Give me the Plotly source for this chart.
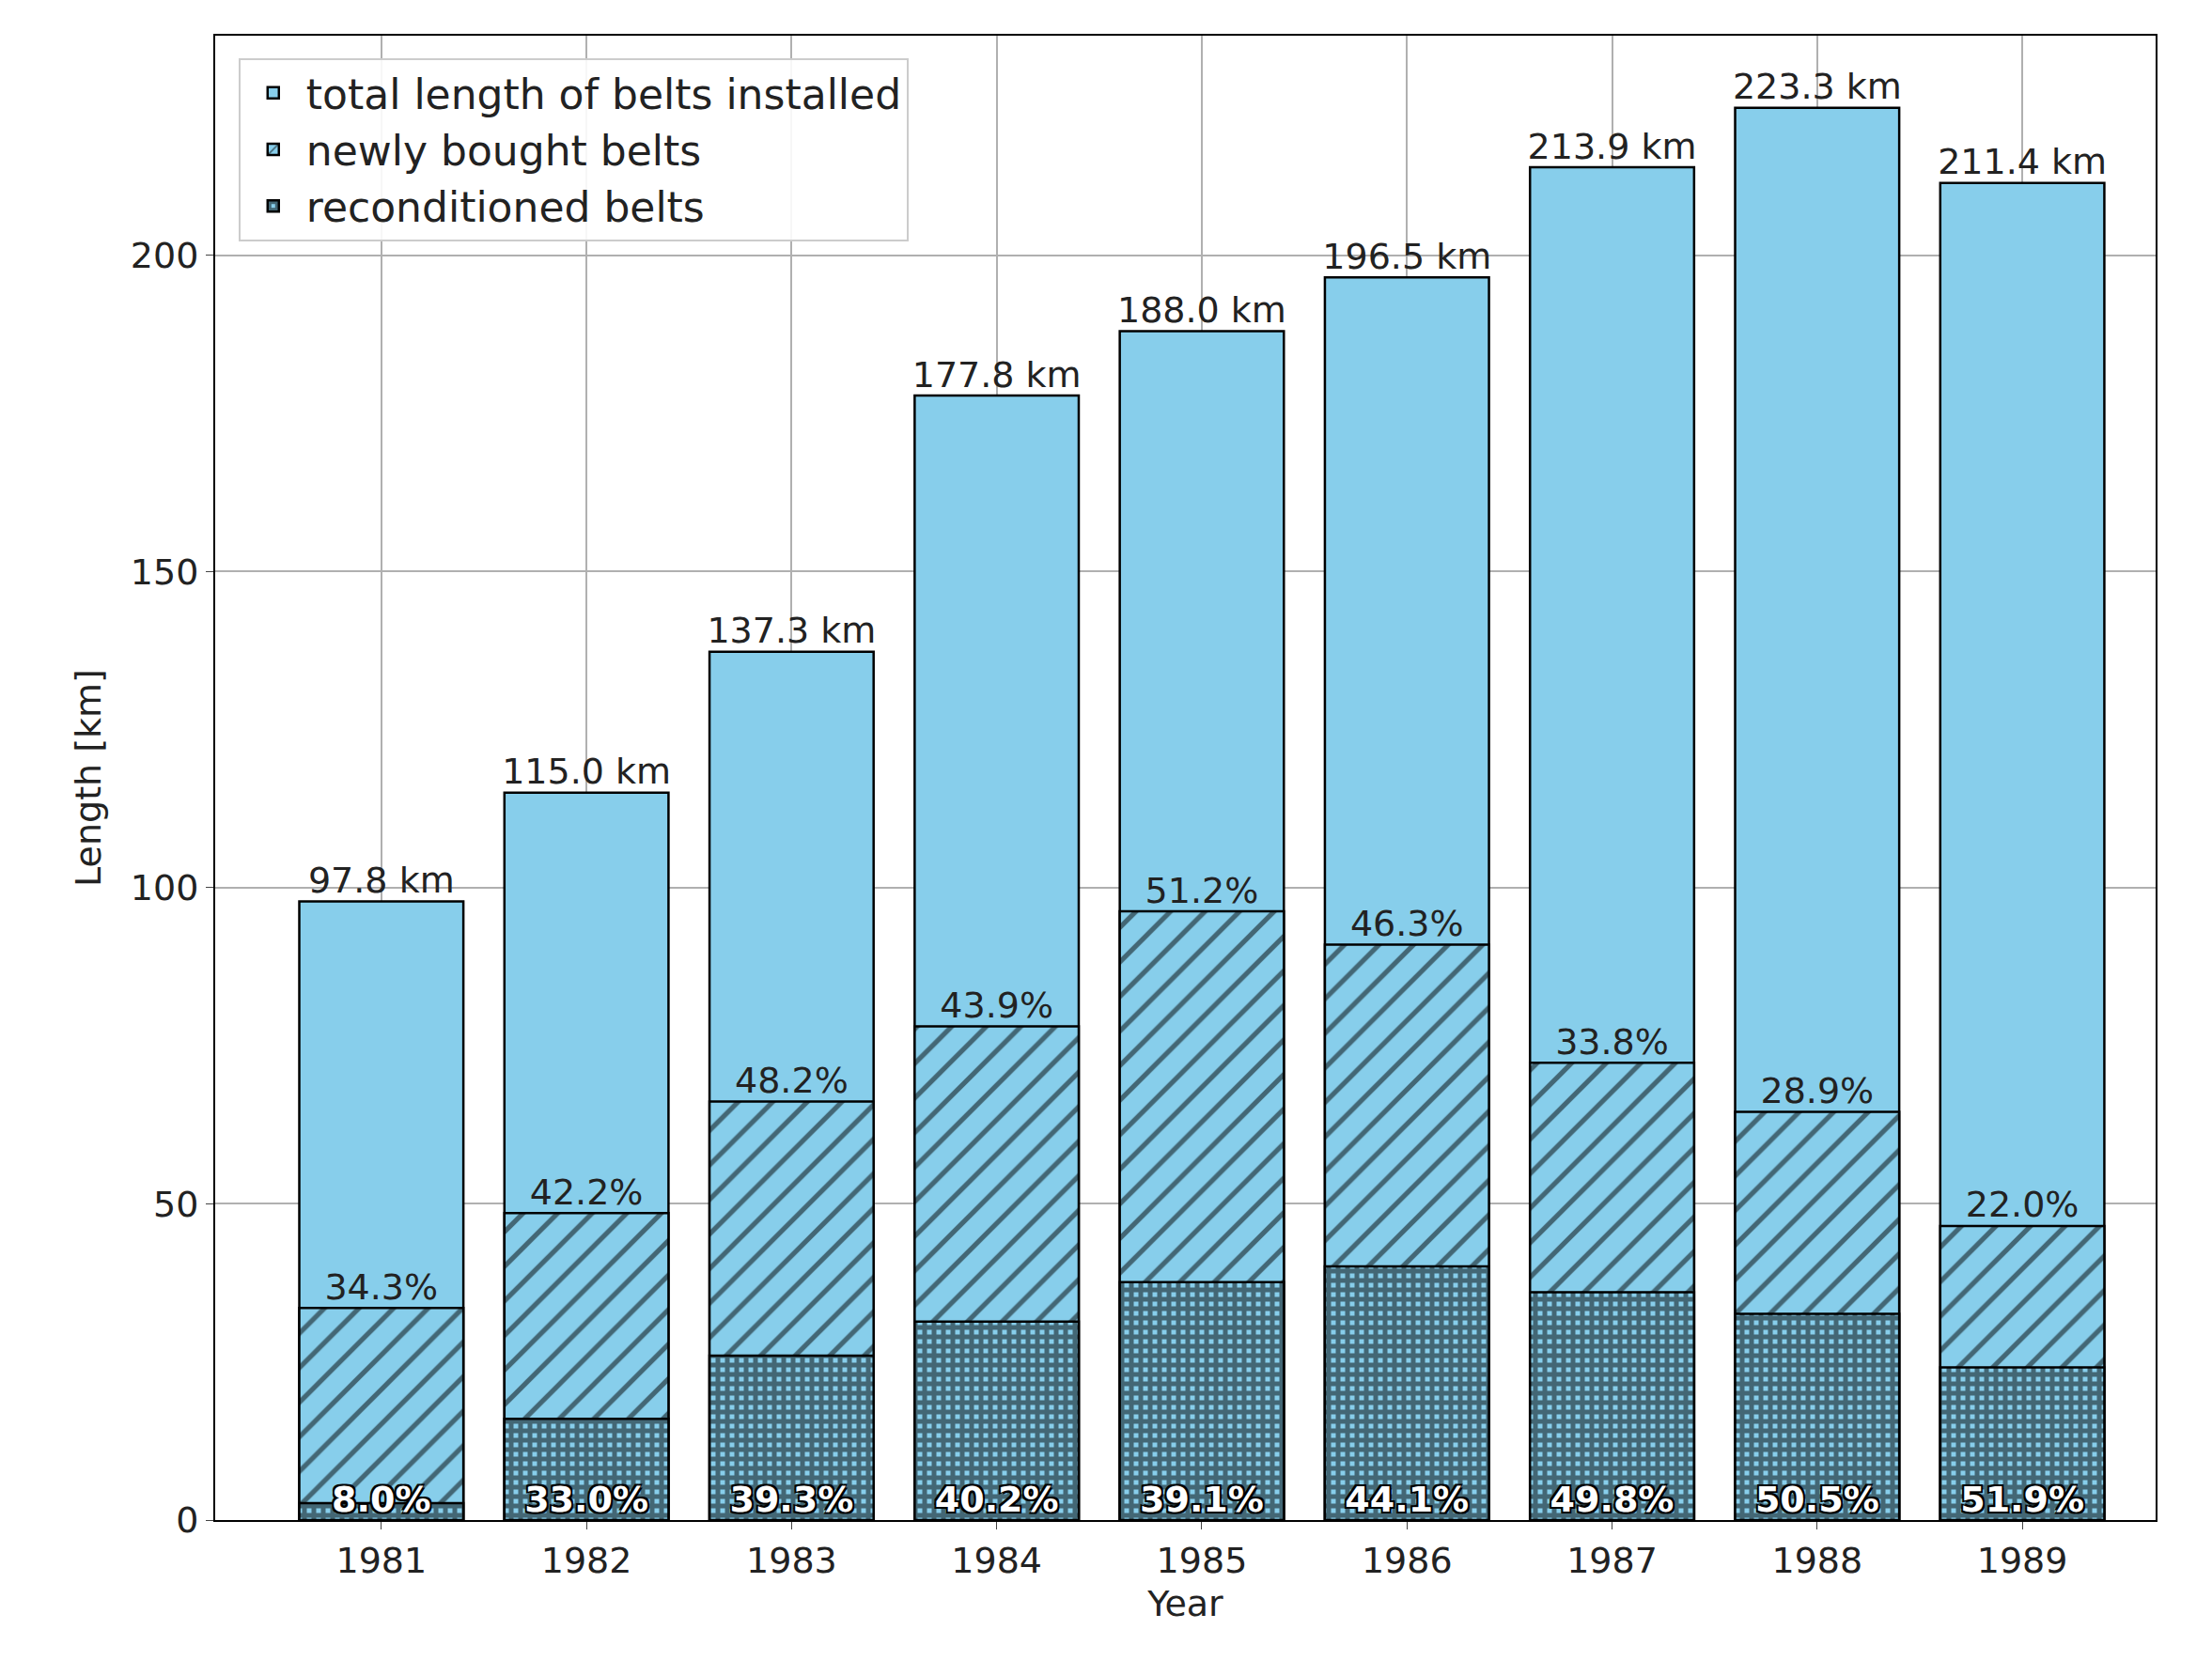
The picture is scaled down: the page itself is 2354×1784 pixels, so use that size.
import plotly.graph_objects as go

years = [1981, 1982, 1983, 1984, 1985, 1986, 1987, 1988, 1989]
total_km = [97.8, 115.0, 137.3, 177.8, 188.0, 196.5, 213.9, 223.3, 211.4]
new_pct = [34.3, 42.2, 48.2, 43.9, 51.2, 46.3, 33.8, 28.9, 22.0]   # share of total
recon_pct = [8.0, 33.0, 39.3, 40.2, 39.1, 44.1, 49.8, 50.5, 51.9]  # share of new

new_km = [t * p / 100 for t, p in zip(total_km, new_pct)]
recon_km = [n * p / 100 for n, p in zip(new_km, recon_pct)]

blue = "#87CEEB"
line = dict(color="black", width=2.5)
font = dict(family="DejaVu Sans", size=38, color="#222")

fig = go.Figure()
fig.add_bar(x=years, y=total_km, width=0.8, name="total length of belts installed",
            marker=dict(color=blue, line=line))
fig.add_bar(x=years, y=new_km, width=0.8, name="newly bought belts",
            marker=dict(color=blue, line=line,
                        pattern=dict(shape="/", fgcolor="black", bgcolor=blue, size=26, solidity=0.2)))
fig.add_bar(x=years, y=recon_km, width=0.8, name="reconditioned belts",
            marker=dict(color=blue, line=line,
                        pattern=dict(shape="+", fgcolor="black", bgcolor=blue, size=10, solidity=0.75)))

fig.add_scatter(x=years, y=total_km, mode="text", text=[f"{t:.1f} km" for t in total_km],
                textposition="top center", textfont=font, showlegend=False, hoverinfo="skip")
fig.add_scatter(x=years, y=new_km, mode="text", text=[f"{p:.1f}%" for p in new_pct],
                textposition="top center", textfont=font, showlegend=False, hoverinfo="skip")
fig.add_scatter(x=years, y=[0] * len(years), mode="text", text=[f"<b>{p:.1f}%</b>" for p in recon_pct],
                textposition="top center",
                textfont=dict(family="DejaVu Sans", size=38, color="white",
                              shadow="2px 2px 0 black, -2px -2px 0 black, 2px -2px 0 black, -2px 2px 0 black"),
                showlegend=False, hoverinfo="skip")

fig.update_layout(
    barmode="overlay", width=2354, height=1784,
    paper_bgcolor="white", plot_bgcolor="white",
    margin=dict(l=221, r=68, t=30, b=174),
    font=font,
    legend=dict(x=0.012, y=0.985, xanchor="left", yanchor="top", bgcolor="rgba(255,255,255,0.9)",
                bordercolor="#ccc", borderwidth=2, font=dict(size=44), traceorder="normal",
                itemwidth=60),
)
fig.update_xaxes(title_text="Year", range=[1980.19, 1989.65], tickvals=years,
                 showgrid=True, gridcolor="#b0b0b0", gridwidth=2, showline=True, linecolor="black",
                 linewidth=2, mirror=True, ticks="outside", ticklen=8, tickfont=font, title_font=font,
                 title_standoff=12)
fig.update_yaxes(title_text="Length [km]", range=[0, 234.7], tickvals=[0, 50, 100, 150, 200],
                 showgrid=True, gridcolor="#b0b0b0", gridwidth=2, showline=True, linecolor="black",
                 linewidth=2, mirror=True, ticks="outside", ticklen=8, tickfont=font, title_font=font,
                 zeroline=False, title_standoff=20)

fig.write_html("out.html")
